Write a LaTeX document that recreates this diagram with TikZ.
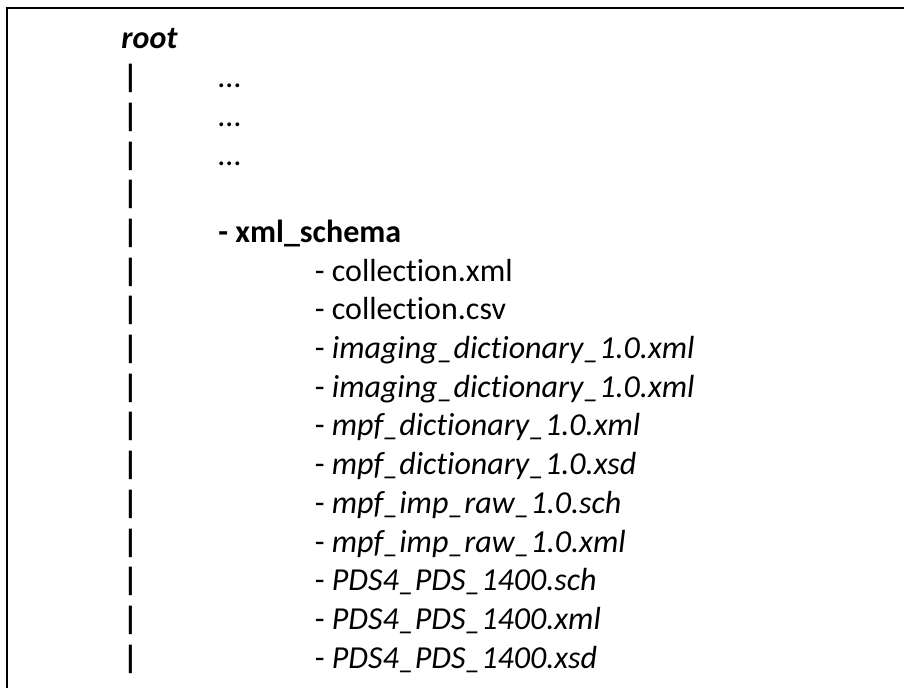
\documentclass[tikz,border=0pt]{standalone}
\usepackage{fontspec}
\setmainfont{Carlito}[Ligatures=NoCommon]

\tikzset{
  entry/.style={anchor=base west, inner sep=0pt, font=\fontsize{16}{19}\selectfont},
  bar/.style={anchor=base, inner sep=0pt, font=\fontsize{16}{19}\selectfont\bfseries},
}

\begin{document}
\begin{tikzpicture}[x=0.5pt, y=-0.5pt]
\useasboundingbox (0,0) rectangle (904,688);
 \draw[line width=0.9pt] (904,8)--(7,8)--(7,690);

 \node[entry, font=\fontsize{16}{19}\selectfont\bfseries\itshape] at (121, 49) (root) {root};

 \node[bar] at (130.5, 87.7)  (bar1)  {|};
 \node[bar] at (130.5, 126.4) (bar2)  {|};
 \node[bar] at (130.5, 165.1) (bar3)  {|};
 \node[bar] at (130.5, 203.8) (bar4)  {|};
 \node[bar] at (130.5, 242.5) (bar5)  {|};
 \node[bar] at (130.5, 281.2) (bar6)  {|};
 \node[bar] at (130.5, 319.9) (bar7)  {|};
 \node[bar] at (130.5, 358.6) (bar8)  {|};
 \node[bar] at (130.5, 397.3) (bar9)  {|};
 \node[bar] at (130.5, 436.0) (bar10) {|};
 \node[bar] at (130.5, 474.7) (bar11) {|};
 \node[bar] at (130.5, 513.4) (bar12) {|};
 \node[bar] at (130.5, 552.1) (bar13) {|};
 \node[bar] at (130.5, 590.8) (bar14) {|};
 \node[bar] at (130.5, 629.5) (bar15) {|};
 \node[bar] at (130.5, 668.2) (bar16) {|};

 \node[entry] at (218, 87.7)  (dots1) {…};
 \node[entry] at (218, 126.4) (dots2) {…};
 \node[entry] at (218, 165.1) (dots3) {…};

 \node[entry, font=\fontsize{16}{19}\selectfont\bfseries] at (218, 242.5) (schema) {- xml\_schema};

 \node[entry] at (314.5, 281.2) (colxml) {- collection.xml};
 \node[entry] at (314.5, 319.9) (colcsv) {- collection.csv};
 \node[entry] at (314.5, 358.6) (imgxml) {- \textit{imaging\_dictionary\_1.0.xml}};
 \node[entry] at (314.5, 397.3) (imgxmlb) {- \textit{imaging\_dictionary\_1.0.xml}};
 \node[entry] at (314.5, 436.0) (mpfxml) {- \textit{mpf\_dictionary\_1.0.xml}};
 \node[entry] at (314.5, 474.7) (mpfxsd) {- \textit{mpf\_dictionary\_1.0.xsd}};
 \node[entry] at (314.5, 513.4) (rawsch) {- \textit{mpf\_imp\_raw\_1.0.sch}};
 \node[entry] at (314.5, 552.1) (rawxml) {- \textit{mpf\_imp\_raw\_1.0.xml}};
 \node[entry] at (314.5, 590.8) (pdssch) {- \textit{PDS4\_PDS\_1400.sch}};
 \node[entry] at (314.5, 629.5) (pdsxml) {- \textit{PDS4\_PDS\_1400.xml}};
 \node[entry] at (314.5, 668.2) (pdsxsd) {- \textit{PDS4\_PDS\_1400.xsd}};
\end{tikzpicture}
\end{document}
